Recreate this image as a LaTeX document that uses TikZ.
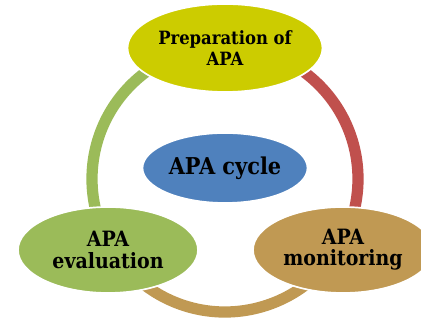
\documentclass[tikz,border=0pt]{standalone}
\usepackage{fontspec}
\setmainfont{DejaVu Serif Condensed}
\usetikzlibrary{shapes.geometric}
\definecolor{prepcol}{RGB}{204,204,0}
\definecolor{evalcol}{RGB}{155,187,89}
\definecolor{moncol}{RGB}{192,153,83}
\definecolor{redcol}{RGB}{192,80,77}
\definecolor{cyclecol}{RGB}{79,129,189}
\begin{document}
\begin{tikzpicture}[phase/.style={ellipse,draw=white,line width=1.2pt,inner sep=0pt,minimum width=4.5cm,minimum height=2.15cm,align=center,font=\bfseries\fontsize{15}{15}\selectfont},seg/.style={line width=8pt}]
\useasboundingbox (0,0) rectangle (10.525,8);
\coordinate (ring) at (5.625,3.525);
\draw[seg,draw=evalcol] (ring) ++(90:3.325) arc[start angle=90,end angle=211,radius=3.325];
\draw[seg,draw=redcol] (ring) ++(90:3.325) arc[start angle=90,end angle=-31,radius=3.325];
\draw[seg,draw=moncol] (ring) ++(-31:3.325) arc[start angle=-31,end angle=-149,radius=3.325];
\node[phase,fill=prepcol,minimum width=4.875cm,minimum height=2.2cm,font=\bfseries\fontsize{13}{15}\selectfont] (prep) at (5.625,6.8) {Preparation of\\APA};
\node[phase,fill=evalcol] (eval) at (2.7,1.75) {APA\\evaluation};
\node[phase,fill=moncol] (mon) at (8.575,1.75) {APA\\monitoring};
\node[phase,fill=cyclecol,minimum width=4.125cm,minimum height=1.75cm,font=\bfseries\fontsize{16.5}{16.5}\selectfont] (cycle) at (5.625,3.8) {APA cycle};
\end{tikzpicture}
\end{document}
